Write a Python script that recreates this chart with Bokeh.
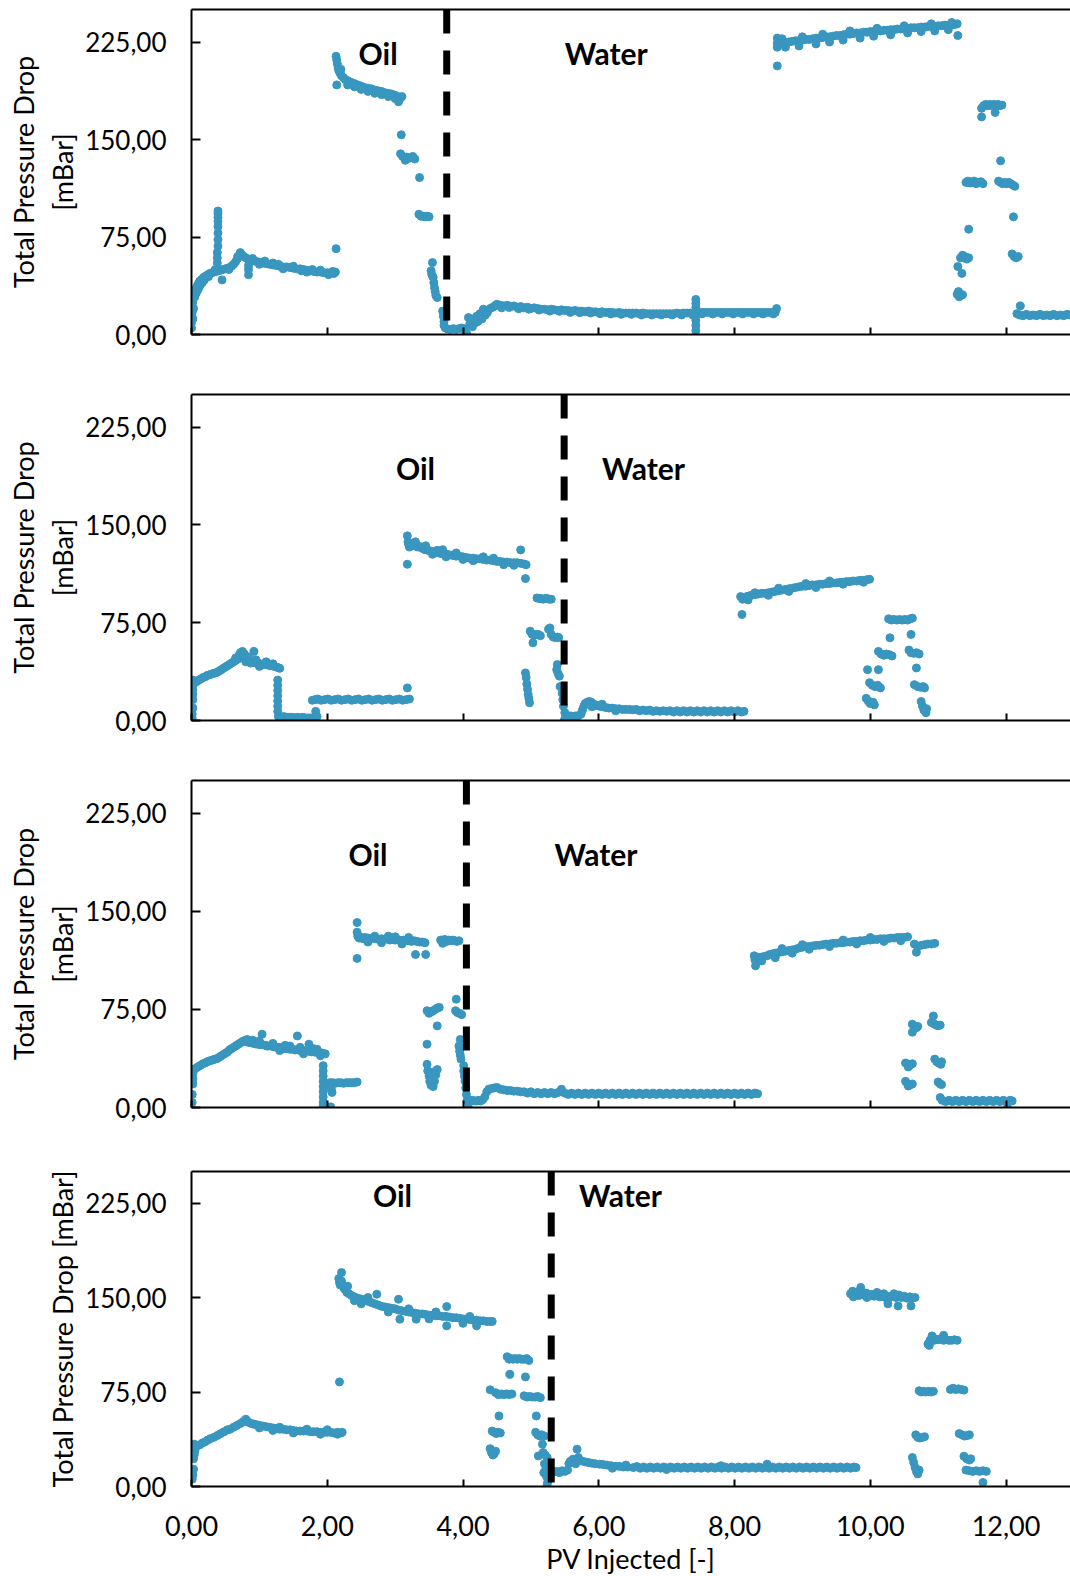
from bokeh.plotting import figure
from bokeh.layouts import column
from bokeh.models import Range1d, Span, Label, LinearAxis, FixedTicker
from bokeh.embed import file_html
from bokeh.resources import INLINE

# ---------------- axis values ----------------
x_ticks = [0, 2, 4, 6, 8, 10, 12]
x_tick_labels = ["0,00", "2,00", "4,00", "6,00", "8,00", "10,00", "12,00"]
y_ticks = [0, 75, 150, 225]
y_tick_labels = ["0,00", "75,00", "150,00", "225,00"]
phase_names = ["Oil", "Water"]
switch_pv = [3.76, 5.49, 4.05, 5.30]   # PV injected at oil -> water switch

# ---------------- panel 1 (PV injected, total pressure drop mBar) ----------------
p1_oil_start = [(0.00,5),(0.00,9),(0.01,13),(0.01,17),(0.01,21),(0.02,25),(0.02,28),(0.03,31),(0.03,20),(0.02,12),(0.00,24),(0.01,30),
    (0.04,32),(0.05,29),(0.06,35),(0.07,32),(0.08,37),(0.09,34),(0.10,39),(0.11,36),(0.12,41),(0.13,38),(0.15,42.5),(0.16,40),(0.18,44),(0.19,42),
    (0.21,45),(0.24,46),(0.27,47),(0.30,47.5),(0.33,48),(0.36,48.5),(0.40,49),(0.43,49.5),(0.46,50),(0.50,50.5),(0.53,51),(0.56,51.5),(0.59,52.5),
    (0.62,54),(0.65,56),(0.68,58.5),(0.71,60.5),(0.74,61.5),(0.77,60),(0.80,59),(0.83,58),(0.86,57.5),(0.89,57),(0.93,56.5),(0.97,56),(1.01,55.5),
    (1.05,55),(1.10,54.5),(1.15,54),(1.20,53.5),(1.25,53),(1.30,52.5),(1.35,52),(1.40,52),(1.45,51.5),(1.50,51),(1.55,50.5),(1.60,50.5),(1.65,50),
    (1.70,49.5),(1.75,49),(1.80,48.5),(1.85,48),(1.90,48),(1.95,47.5),(2.00,47.5),(2.05,47),(2.10,47),(2.12,48),
    (0.25,44.5),(0.35,50),(0.55,50),(0.72,63),(0.68,60),(0.90,58.5),(1.08,56.5),(1.20,55),(1.35,50.5),(1.50,52.5),(1.62,49),(1.70,48),(1.90,49.5),
    (2.02,46),(2.08,48.5),(1.00,54),(1.28,54),(1.78,50),
    (0.38,55),(0.38,59),(0.38,63),(0.39,68),(0.39,73),(0.39,78),(0.39,83),(0.39,87),(0.39,90),(0.39,93),(0.39,95),
    (0.45,42),(0.84,46),(0.84,50),(0.84,53),(2.13,66)]
p1_oil_high = [(2.14,192),(2.13,214),(2.14,211),(2.15,208),(2.16,205),(2.17,203),(2.19,201),(2.21,199),(2.24,197.5),(2.27,196),(2.31,195),
    (2.35,194),(2.40,193),(2.45,192),(2.50,191),(2.55,190),(2.60,189.5),(2.65,189),(2.70,188),(2.75,187.5),(2.80,187),(2.85,186),(2.90,185.5),
    (2.95,185),(3.00,184),(3.04,183),(3.08,182),(3.10,183),(2.30,192),(2.50,188.5),(2.70,185.5),(2.90,183),(3.05,179),(2.20,204),(2.60,187),
    (2.40,190.5),(2.80,184.5),(3.00,181.5)]
p1_oil_steps = [(3.09,153.6),(3.08,139),(3.11,137),(3.14,136),(3.17,136.5),(3.20,135.5),(3.23,136),(3.26,137),(3.29,135),(3.15,134),
    (3.36,120.7),(3.35,92.5),(3.38,91),(3.41,91),(3.44,90.5),(3.47,91),(3.50,90.5),(3.55,55.3),(3.53,49),(3.54,46),(3.56,44),(3.57,40),
    (3.58,36),(3.59,33),(3.60,30),(3.62,28.4),(3.70,18),(3.71,14),(3.72,10),(3.72,7)]
p1_water_low = [(3.74,5),(3.78,4),(3.82,4),(3.86,4.5),(3.90,4),(3.94,4.5),(3.98,5),(4.02,4.5),(4.04,2),(4.06,0),
    (4.08,13),(4.10,8),(4.12,11),(4.14,6),(4.16,12),(4.18,9),(4.20,14),(4.22,10),(4.25,16),(4.28,12),(4.30,19.5),(4.33,15),(4.36,17),(4.40,20),
    (4.44,21),(4.47,22),(4.50,23.3),(4.55,22.5),(4.60,22),(4.65,22.5),(4.70,21.5),(4.75,22),(4.80,21),(4.85,21.5),(4.90,20.5),(4.95,21),(5.00,20),
    (5.05,20.5),(5.10,20),(5.15,19.5),(5.20,19.5),(5.25,19),(5.30,19.5),(5.35,19),(5.40,18.5),(5.45,19),(5.50,18.5),(5.55,18.5),(5.60,18),
    (5.65,18.5),(5.70,18),(5.75,18),(5.80,17.5),(5.85,18),(5.90,17.5),(5.95,17.5),(6.00,17),(6.05,17.5),(6.10,17),(6.15,17),(6.20,17),(6.25,16.5),
    (6.30,17),(6.35,16.5),(6.40,16.5),(6.45,16.5),(6.50,16.5),(6.55,16.5),(6.60,16),(6.65,16.5),(6.70,16),(6.75,16),(6.80,16),(6.85,16),(6.90,16),
    (6.95,16),(7.00,16),(7.05,16),(7.10,16),(7.15,16.5),(7.20,16),(7.25,16.5),(7.30,16.5),(7.35,16.5),(7.40,16.5),(7.45,16.5),(7.50,17),(7.55,17),
    (7.60,17),(7.65,17),(7.70,17),(7.75,17),(7.80,17),(7.85,17),(7.90,17),(7.95,17),(8.00,17),(8.05,17),(8.10,17),(8.15,17),(8.20,17),(8.25,17),
    (8.30,17),(8.35,17),(8.40,17),(8.45,17),(8.50,17),(8.55,17),(8.60,17),(8.62,20),
    (4.57,20.5),(4.68,20.8),(4.82,19.8),(4.97,19.5),(5.12,18.8),(5.28,18),(5.42,17.8),(5.58,17),(5.72,16.8),(5.88,16.5),(6.02,16),(6.18,15.8),
    (6.33,15.5),(6.48,15.5),(6.63,15),(6.78,15),(6.92,15),(7.08,15),(7.22,15),(7.38,15.2),(7.52,15.8),(7.68,15.8),(7.82,15.8),(7.98,15.8),
    (8.12,15.8),(8.28,15.8),(8.42,15.8),(8.57,15.8),
    (7.43,3),(7.43,7),(7.43,11),(7.43,21),(7.43,24),(7.43,27)]
p1_water_high = [(8.63,206.6),(8.63,228),(8.63,224),(8.63,221),(8.66,225),(8.70,224.5),(8.75,225),(8.80,225),(8.85,225.5),(8.90,226),(8.95,226),
    (9.00,226.5),(9.05,227),(9.10,227),(9.15,227.5),(9.20,228),(9.25,228),(9.30,228.5),(9.35,229),(9.40,229),(9.45,229.5),(9.50,230),(9.55,230),
    (9.60,230.5),(9.65,231),(9.70,231),(9.75,231.5),(9.80,232),(9.85,232),(9.90,232.5),(9.95,232.5),(10.00,233),(10.05,233),(10.10,233.5),
    (10.15,233.5),(10.20,234),(10.25,234),(10.30,234.5),(10.35,234.5),(10.40,235),(10.45,235),(10.50,235.5),(10.55,235.5),(10.60,236),(10.65,236),
    (10.70,236),(10.75,236.5),(10.80,236.5),(10.85,237),(10.90,237),(10.95,237),(11.00,237.5),(11.05,237.5),(11.10,238),(11.15,238),(11.20,238),
    (11.25,238.5),(11.28,239),
    (8.75,221),(8.95,222),(9.20,223.5),(9.40,225),(9.60,226.5),(9.85,228),(10.05,229.5),(10.30,230.5),(10.55,232),(10.75,233),(10.95,233.5),
    (11.15,234.5),(11.29,230),(8.70,227.5),(9.00,229),(9.30,231),(9.70,233.5),(10.10,235.5),(10.50,237.5),(10.90,239),(11.20,240)]
p1_water_steps = [(11.28,31),(11.30,33),(11.31,29),(11.33,31),(11.36,30.5),(11.29,52.3),(11.35,47),(11.33,59),(11.36,61),(11.39,60),(11.42,58),
    (11.45,59),(11.45,81),(11.41,117),(11.44,118),(11.47,116.5),(11.50,117),(11.53,118),(11.56,116),(11.60,117),(11.63,117.5),(11.66,116),
    (11.64,167.4),(11.64,174),(11.67,176),(11.70,177),(11.73,176),(11.76,177),(11.79,176),(11.82,177),(11.85,176),(11.88,177),(11.91,176),
    (11.94,176.5),(11.84,170.8),(11.92,133.6),(11.89,118),(11.92,117),(11.95,116),(11.98,117),(12.01,116),(12.04,117),(12.07,116),(12.10,115),
    (12.13,114),(12.11,90.5),(12.09,62),(12.12,60),(12.15,59),(12.18,60),(12.21,22),
    (12.16,16),(12.20,15),(12.25,14.5),(12.30,15.5),(12.35,14.5),(12.40,15),(12.45,14.5),(12.50,15.5),(12.55,14.5),(12.60,15),(12.65,14.5),
    (12.70,15.5),(12.75,14.5),(12.80,15),(12.85,14.5),(12.90,15.5),(12.94,15)]

# ---------------- panel 2 ----------------
p2_oil_start = [(0.01,1.8),(0.02,9.5),(0.01,5),(0.02,16),(0.02,20),(0.02,24),(0.02,28),(0.02,31),
    (0.05,29),(0.08,30),(0.11,31),(0.14,32),(0.17,33),(0.20,33.5),(0.23,34.5),(0.26,35),(0.29,35.5),(0.32,36),(0.35,36.5),(0.38,37),(0.41,38),
    (0.44,39),(0.47,40),(0.50,41),(0.53,42),(0.56,43),(0.59,44),(0.62,45),(0.65,46),(0.68,47),(0.71,48),(0.74,49),(0.77,48),(0.80,47),(0.83,46),
    (0.86,45),(0.89,45),(0.92,44.5),(0.95,44),(0.98,44),(1.01,43.5),(1.04,43),(1.07,43),(1.10,43),(1.13,42.5),(1.16,42),(1.19,42),(1.22,41.5),
    (1.25,41),(1.28,40.5),(1.30,40),
    (0.70,50),(0.72,52),(0.75,53),(0.78,51),(0.92,53),(0.87,44),(0.80,45),(1.00,41.5),(1.10,45),(1.20,43.5),(0.95,46.5),(0.65,48),(0.84,48.5),
    (1.27,31),(1.27,27),(1.27,23),(1.27,19),(1.27,15),(1.27,11),(1.27,7),
    (1.28,3),(1.32,2.5),(1.36,3),(1.40,2.5),(1.44,2.5),(1.48,2.5),(1.52,2),(1.56,2.5),(1.60,2),(1.64,2.5),(1.68,2),(1.72,2),(1.76,2),(1.80,2),
    (1.83,7),(1.85,3),
    (1.78,15.5),(1.82,16),(1.86,16.5),(1.91,15.5),(1.96,16),(2.01,16.5),(2.06,15.5),(2.11,16),(2.16,16.5),(2.21,15.5),(2.26,16),(2.31,16.5),
    (2.36,15.5),(2.41,16),(2.46,16.5),(2.51,15.5),(2.56,16),(2.61,16.5),(2.66,15.5),(2.71,16),(2.76,16.5),(2.81,15.5),(2.86,16),(2.91,16.5),
    (2.96,15.5),(3.01,16),(3.06,16.5),(3.11,15.5),(3.16,16),(3.21,16.5),(3.18,25)]
p2_oil_high = [(3.18,141.6),(3.18,119.8),(3.19,137),(3.20,135),(3.21,133),(3.23,136),(3.25,134),(3.27,135),(3.30,134),(3.33,133),(3.36,133.5),
    (3.40,132),(3.44,131),(3.48,130.5),(3.52,130),(3.56,129.5),(3.60,129),(3.64,128.5),(3.68,128),(3.72,128),(3.76,127.5),(3.80,127),(3.85,126.5),
    (3.90,126),(3.95,126),(4.00,125.5),(4.05,125),(4.10,124.5),(4.15,124.5),(4.20,124),(4.25,124),(4.30,123.5),(4.35,123),(4.40,123),(4.45,122.5),
    (4.50,122),(4.55,122),(4.60,121.5),(4.65,121.5),(4.70,121),(4.75,121),(4.80,121),(4.85,120.5),(4.90,120),(4.93,119.5),
    (3.30,137),(3.45,134),(3.62,130.5),(3.75,125.5),(4.00,123.5),(4.30,125.5),(4.60,119.5),(3.55,127.5),(3.70,131),(3.90,128.5),(4.15,122.5),
    (4.45,124.5),(4.75,119),(4.85,130.8),(4.92,108.8)]
p2_oil_steps = [(4.92,36.5),(4.93,33),(4.94,28),(4.95,24),(4.96,20),(4.97,17),(4.98,13.6),
    (4.99,68.5),(5.02,66),(5.05,65.5),(5.08,66),(5.11,66),(5.14,65),(5.03,59.6),
    (5.09,94),(5.12,93.5),(5.15,93.5),(5.18,93),(5.21,93.5),(5.24,93.5),(5.27,93),(5.30,93),
    (5.26,70),(5.28,71),(5.30,66),(5.33,64),(5.36,63.6),(5.39,64),(5.41,63.6),
    (5.39,42.9),(5.38,39),(5.40,36),(5.42,34),
    (5.43,26),(5.46,21),(5.47,16),(5.48,11),(5.50,6),(5.49,0),(5.51,3)]
p2_water_low = [(5.53,4),(5.56,3),(5.59,3.5),(5.62,3),(5.65,3.5),(5.68,3),(5.71,4),(5.74,5),(5.76,8),(5.78,11),(5.80,13),(5.83,14),(5.86,14.6),
    (5.89,14),(5.92,12.5),(5.95,12),(5.98,11.5),(6.01,11),(6.05,10.5),(6.10,10),(6.15,9.5),(6.20,9.5),(6.25,9),(6.30,9),(6.35,8.5),(6.40,8.5),
    (6.45,8.5),(6.50,8.2),(6.55,8.5),(6.60,7.5),(6.65,8),(6.70,7.5),(6.75,8),(6.80,7),(6.85,7.5),(6.90,7),(6.95,7.5),(7.00,7),(7.05,7.5),(7.10,6.5),
    (7.15,7.5),(7.20,6.5),(7.25,7.5),(7.30,6.5),(7.35,7.5),(7.40,6.5),(7.45,7.5),(7.50,6.5),(7.55,7.5),(7.60,6.5),(7.65,7.5),(7.70,6.5),(7.75,7.5),
    (7.80,6.5),(7.85,7.5),(7.90,6.5),(7.95,7.5),(8.00,6.5),(8.05,7.5),(8.10,6.5),(8.14,7),(5.90,10.5),(6.05,12.5),(6.25,7.5)]
p2_water_high = [(8.11,81.3),(8.09,95),(8.12,93),(8.15,94),(8.18,95),(8.21,95.5),(8.25,96),(8.30,96.5),(8.35,97),(8.40,97.5),(8.45,97.5),
    (8.50,98),(8.55,98.5),(8.60,99),(8.65,99.5),(8.70,100),(8.75,100.5),(8.80,101),(8.85,101.5),(8.90,102),(8.95,102.5),(9.00,103),(9.05,103),
    (9.10,103.5),(9.15,104),(9.20,104),(9.25,104.5),(9.30,104.5),(9.35,105),(9.40,105),(9.45,105.5),(9.50,105.5),(9.55,106),(9.60,106),
    (9.65,106.5),(9.70,106.5),(9.75,107),(9.80,107),(9.85,107.5),(9.90,107.5),(9.95,108),(9.99,108.3),
    (8.20,92.5),(8.50,96),(8.80,99),(9.20,102),(9.60,104.5),(9.90,106),(8.30,98),(9.40,107),(8.65,101.5),(9.05,105)]
p2_water_steps = [(9.96,39),(10.12,39),(9.99,29),(10.03,27),(10.07,26),(10.11,27),(10.15,25),(9.94,17),(9.97,15),(10.00,13),(10.04,14),
    (10.06,12),(10.12,53),(10.16,51),(10.20,50),(10.24,51),(10.28,50.5),(10.32,49.5),(10.29,63.4),
    (10.27,78),(10.31,77),(10.35,77.5),(10.39,77),(10.43,77.5),(10.47,77),(10.51,77.5),(10.55,77),(10.59,78),(10.62,78.5),(10.60,66),
    (10.57,54),(10.60,52),(10.64,51.5),(10.68,52),(10.72,51),(10.68,40.3),(10.65,27.5),(10.70,26),(10.74,25.5),(10.78,26),(10.80,25),
    (10.75,14.6),(10.77,11),(10.79,8),(10.82,6),(10.83,9)]

# ---------------- panel 3 ----------------
p3_oil_start = [(0.01,3.8),(0.01,10),(0.02,18),(0.02,22),(0.02,26),(0.02,29),
    (0.05,29.5),(0.08,30.6),(0.11,31.5),(0.14,32.5),(0.17,33.5),(0.20,34),(0.23,35),(0.26,35.5),(0.29,36),(0.32,36.5),(0.35,37),(0.38,37.5),
    (0.41,38.5),(0.44,39.5),(0.47,40.5),(0.50,41.5),(0.53,42.5),(0.56,44),(0.59,45),(0.62,46),(0.65,47),(0.68,48),(0.71,49),(0.74,50),(0.77,51),
    (0.80,50.5),(0.83,50),(0.86,49.5),(0.89,49.5),(0.92,49),(0.95,48.5),(0.98,48.5),(1.01,48),(1.05,48),(1.09,47.5),(1.13,47),(1.17,47),
    (1.21,46.5),(1.25,46),(1.29,46),(1.33,45.5),(1.37,45),(1.41,45),(1.45,44.5),(1.49,44.5),(1.53,44),(1.57,44),(1.61,43.5),(1.65,43.5),
    (1.69,43),(1.73,43),(1.77,42.5),(1.81,42.5),(1.85,42),(1.89,42),(1.93,41.5),(1.97,41),
    (1.04,56),(1.56,54.7),(1.73,48.4),(1.11,47),(0.90,51.5),(1.20,49),(1.30,43.5),(1.45,47),(1.65,41),(1.80,45),(1.90,39.5),(1.00,51),
    (0.82,52),(1.38,47.5),(1.60,46),(1.85,44.5),
    (1.94,32),(1.94,28),(1.94,24),(1.94,20),(1.94,16),(1.94,12),(1.94,8),(1.94,4),(1.94,1.2),
    (1.96,0),(1.99,0.5),(2.02,0),(2.05,0.5),
    (1.96,19),(2.00,18.5),(2.04,19),(2.08,19),(2.12,18.5),(2.16,19),(2.20,19),(2.24,18.5),(2.28,19),(2.32,19),(2.36,19),(2.40,19),(2.44,19.5),
    (2.07,11.5),(2.06,14)]
p3_oil_high = [(2.44,141.4),(2.44,114),(2.44,134),(2.45,131),(2.47,129.5),(2.50,130),(2.53,129),(2.56,130),(2.60,129.5),(2.64,129),(2.68,129.5),
    (2.72,129),(2.76,128.5),(2.80,129),(2.84,128.5),(2.88,129),(2.92,128),(2.96,128.5),(3.00,128),(3.04,128.5),(3.08,127.5),(3.12,128),
    (3.16,127.5),(3.20,127.5),(3.24,127),(3.28,127.5),(3.32,127),(3.36,126.5),(3.40,126.5),(3.44,126),
    (2.60,126.5),(2.80,126),(3.00,130.5),(3.10,125),(3.30,117),(3.45,117),(2.90,131),(2.70,131),(3.20,130),
    (3.67,128),(3.70,127.5),(3.73,128.5),(3.76,127),(3.79,128),(3.82,127.5),(3.85,128),(3.88,127.5),(3.91,127),(3.94,127.5),(3.70,125.5)]
p3_oil_steps = [(3.47,74),(3.50,72),(3.53,73),(3.56,74),(3.59,75),(3.62,76),(3.65,76.5),(3.62,62.4),(3.47,48.4),
    (3.47,33),(3.48,28),(3.50,24),(3.51,20),(3.53,17),(3.56,16),(3.58,20),(3.60,25),(3.62,29),(3.55,27),
    (3.90,82.8),(3.89,74),(3.92,72.5),(3.95,72),(3.98,71),
    (3.96,52),(3.94,47),(3.95,43),(3.96,40),(3.97,37),
    (4.01,32),(4.01,28),(4.02,24),(4.03,20),(4.04,15),(4.05,10),(4.06,5),(4.08,0)]
p3_water_low = [(4.08,6),(4.11,5),(4.14,5.5),(4.17,5),(4.20,5),(4.23,5.5),(4.26,5),(4.29,6),(4.32,8),(4.35,12),(4.38,14),(4.42,14.5),
    (4.46,15),(4.50,15.3),(4.55,14),(4.60,13.5),(4.65,13),(4.70,13),(4.75,12.5),(4.80,12.5),(4.85,12),(4.90,12),(4.95,11),(5.00,12),(5.05,10.5),
    (5.10,11.5),(5.15,10.5),(5.20,11.5),(5.25,10.5),(5.30,11.5),(5.35,10.5),(5.40,11.5),(5.45,14),(5.50,11),(5.55,10),(5.60,11),(5.65,10),
    (5.70,11),(5.75,10),(5.80,11),(5.85,10),(5.90,11),(5.95,10),(6.00,11),(6.05,10),(6.10,11),(6.15,10),(6.20,11),(6.25,10),(6.30,11),(6.35,10),
    (6.40,11),(6.45,10),(6.50,11),(6.55,10),(6.60,11),(6.65,10),(6.70,11),(6.75,10),(6.80,11),(6.85,10),(6.90,11),(6.95,10),(7.00,11),(7.05,10),
    (7.10,11),(7.15,10),(7.20,11),(7.25,10),(7.30,11),(7.35,10),(7.40,11),(7.45,10),(7.50,11),(7.55,10),(7.60,11),(7.65,10),(7.70,11),(7.75,10),
    (7.80,11),(7.85,10),(7.90,11),(7.95,10),(8.00,11),(8.05,10),(8.10,11),(8.15,10),(8.20,11),(8.25,10),(8.30,11),(8.34,10.5)]
p3_water_high = [(8.31,108.3),(8.29,116),(8.30,113),(8.33,115),(8.36,114.5),(8.40,115),(8.44,115.5),(8.48,116),(8.52,117),(8.56,117.5),
    (8.60,118),(8.65,118.5),(8.70,119),(8.75,119.5),(8.80,120),(8.85,120.5),(8.90,121),(8.95,122),(9.00,122.5),(9.05,123),(9.10,123),
    (9.15,123.5),(9.20,124),(9.25,124),(9.30,124.5),(9.35,125),(9.40,125),(9.45,125.5),(9.50,125.5),(9.55,126),(9.60,126),(9.65,126.5),
    (9.70,126.5),(9.75,127),(9.80,127),(9.85,127.5),(9.90,127.5),(9.95,128),(10.00,128),(10.05,128.5),(10.10,128.5),(10.15,129),(10.20,129),
    (10.25,129),(10.30,129.5),(10.35,129.5),(10.40,130),(10.45,130),(10.50,130),(10.55,130.5),
    (8.40,112),(8.60,114.5),(8.85,118),(9.10,121),(9.40,123),(9.80,125),(10.20,127),(10.45,127.5),(8.70,121.5),(9.60,128),(9.00,124.5),(10.00,130),
    (10.65,125),(10.68,118.7),(10.70,123),(10.75,124),(10.80,124.5),(10.85,125),(10.90,125),(10.95,125.5)]
p3_water_steps = [(10.62,63.7),(10.65,62),(10.68,61),(10.70,62),(10.62,57.6),
    (10.93,70),(10.90,65),(10.94,64),(10.97,63),(11.00,62.5),(11.03,63),
    (10.52,34),(10.55,33),(10.58,32),(10.62,33.5),(10.56,31),
    (10.95,37),(10.98,35),(11.01,34),(11.04,33),(11.05,35),
    (10.52,20),(10.55,18),(10.58,17),(10.62,18),(10.56,16.5),
    (11.00,19.5),(11.03,18),(11.05,17.5),(11.03,7.6),
    (11.06,5.5),(11.11,4.5),(11.16,5.5),(11.21,4.5),(11.26,5.5),(11.31,4.5),(11.36,5.5),(11.41,4.5),(11.46,5.5),(11.51,4.5),(11.56,5.5),
    (11.61,4.5),(11.66,5.5),(11.71,4.5),(11.76,5.5),(11.81,4.5),(11.86,5.5),(11.91,4.5),(11.96,5.5),(12.01,4.5),(12.06,5.5),(12.09,5),(12.02,0)]

# ---------------- panel 4 ----------------
p4_oil_start = [(0.01,5.8),(0.02,9),(0.03,13.7),(0.03,22),(0.04,25),(0.05,28),(0.06,31),(0.04,33.6),
    (0.08,32.2),(0.12,33),(0.16,34.5),(0.20,35.5),(0.24,37),(0.28,38),(0.33,39),(0.38,40.5),(0.43,42),(0.48,43.5),(0.53,45),(0.57,45.5),
    (0.62,47),(0.67,48.5),(0.72,50),(0.76,51.5),(0.80,53.4),(0.84,51),(0.88,50),(0.92,49.5),(0.96,49),(1.00,48.5),(1.05,48),(1.10,47.5),
    (1.15,47),(1.20,46.5),(1.25,46),(1.30,45.5),(1.35,45.5),(1.40,45),(1.45,45),(1.50,44.5),(1.55,44),(1.60,44),(1.65,44),(1.70,44),(1.75,43.5),
    (1.80,43.5),(1.85,43.5),(1.90,43),(1.95,43),(2.00,43),(2.05,43),(2.10,42.5),(2.15,43),(2.20,42.5),(2.22,43),
    (0.82,51.5),(1.00,46.5),(1.30,47),(1.50,42.5),(1.70,45.5),(1.90,41.5),(2.00,45),(2.15,41.5),(1.20,44.5),(2.18,83)]
p4_oil_high = [(2.21,169.8),(2.17,165),(2.18,162),(2.19,160),(2.21,163),(2.23,159),(2.25,157),(2.27,156),(2.29,154),(2.32,153),(2.36,151.5),
    (2.40,150.5),(2.44,149.5),(2.48,149),(2.52,148.5),(2.56,147.5),(2.60,147),(2.65,146),(2.70,145),(2.75,144),(2.80,143),(2.85,142.5),(2.90,142),
    (2.95,141.5),(3.00,141),(3.05,140),(3.10,139.5),(3.15,139),(3.20,138.5),(3.25,138),(3.30,137.5),(3.35,137),(3.40,137),(3.45,136.5),(3.50,136),
    (3.55,136),(3.60,135.5),(3.65,135.5),(3.70,135),(3.75,135),(3.80,134.5),(3.85,134),(3.90,134),(3.95,133.5),(4.00,133),(4.05,133),(4.10,132.5),
    (4.15,132),(4.20,132),(4.25,131.5),(4.30,131.5),(4.35,131),(4.40,131),(4.43,131),
    (2.73,152.6),(3.05,148.6),(3.76,142.8),(2.30,159),(2.60,150),(3.07,132.8),(3.76,127.5),(4.20,127.5),(3.31,132.8),(2.50,145),(2.90,138.5),
    (3.50,133),(4.00,129.5),(2.40,147.5),(3.20,141),(3.60,138.5),(4.10,135)]
p4_oil_steps = [(4.40,76.7),(4.40,30),(4.42,27),(4.44,25),(4.46,26),(4.48,28),
    (4.43,44),(4.46,43),(4.49,42),(4.52,43),(4.55,42.5),(4.53,56),
    (4.48,74.5),(4.52,73),(4.56,73.5),(4.60,73),(4.64,73.5),(4.68,73),(4.72,73.5),
    (4.69,89),(4.65,103),(4.68,101),(4.71,101.5),(4.74,101),(4.77,101.5),(4.80,101),(4.83,101.5),(4.86,101),(4.90,101),(4.94,101.5),(4.97,100),
    (4.92,87),(4.90,72),(4.94,71),(4.98,71.5),(5.02,71),(5.06,71),(5.10,71.5),(5.14,70.5),
    (5.08,56),(5.07,43),(5.10,41),(5.13,40),(5.16,41),(5.20,40),(5.17,33.6),(5.11,24.3),(5.18,27),(5.21,25),(5.24,23),(5.19,11),(5.20,18),
    (5.22,14),(5.23,8),(5.25,4),(5.24,1.8)]
p4_water_low = [(5.30,12),(5.34,11.5),(5.38,12),(5.42,11),(5.46,12.5),(5.50,12),(5.54,13),(5.56,18),(5.58,20),(5.62,21.7),(5.66,18),
    (5.68,29.6),(5.70,23),(5.72,20.5),(5.75,20.3),(5.80,19.5),(5.85,19),(5.90,18.5),(5.95,18),(6.01,17.7),(6.06,17.5),(6.12,17),(6.18,16.5),
    (6.24,16),(6.30,16),(6.36,15.5),(6.42,15.5),(6.51,15),(6.56,15.8),(6.61,14.5),(6.66,15.5),(6.71,14.5),(6.76,15.5),(6.81,14.5),(6.86,15.5),
    (6.91,14.5),(6.96,15.5),(7.01,14.5),(7.06,15.5),(7.11,14.5),(7.16,15.5),(7.21,14.5),(7.26,15.5),(7.31,14.5),(7.36,15.5),(7.41,14.5),
    (7.46,15.5),(7.51,14.5),(7.56,15.5),(7.61,14.5),(7.66,15.5),(7.71,14.5),(7.76,15.5),(7.81,14.5),(7.86,15.5),(7.91,14.5),(7.96,15.5),
    (8.01,14.5),(8.06,15.5),(8.11,14.5),(8.16,15.5),(8.21,14.5),(8.26,15.5),(8.31,14.5),(8.36,15.5),(8.41,14.5),(8.46,15.5),(8.48,17.7),
    (8.51,14.5),(8.56,15.5),(8.61,14.5),(8.66,15.5),(8.71,14.5),(8.76,15.5),(8.81,14.5),(8.86,15.5),(8.91,14.5),(8.96,15.5),(9.01,14.5),
    (9.06,15.5),(9.11,14.5),(9.16,15.5),(9.21,14.5),(9.26,15.5),(9.31,14.5),(9.36,15.5),(9.41,14.5),(9.46,15.5),(9.51,14.5),(9.56,15.5),
    (9.61,14.5),(9.66,15.5),(9.71,14.5),(9.76,15.5),(9.79,15),(6.20,14.5),(6.40,17),(7.00,13.5),(7.80,16.5)]
p4_water_high = [(9.71,153),(9.74,155),(9.77,152),(9.80,154),(9.83,151.5),(9.86,158),(9.86,153),(9.90,152),(9.94,153.5),(9.98,151),(10.02,152.5),
    (10.06,151),(10.10,152),(10.14,150.5),(10.18,151.5),(10.22,150),(10.26,145),(10.26,151),(10.30,150.5),(10.34,151.5),(10.38,150),(10.41,143.3),
    (10.42,152),(10.46,150),(10.50,151),(10.54,149.5),(10.58,150.5),(10.60,143.3),(10.62,149.5),(10.66,150),(9.95,150),(10.10,154),(10.35,153),
    (9.75,150.5),(10.20,153)]
p4_water_steps = [(10.85,113),(10.88,116),(10.91,119.5),(10.94,116),(10.97,117),(11.00,116.5),(11.04,117),(11.08,120),(11.08,116),(11.12,116.5),
    (11.16,116),(11.20,116),(11.24,116.5),(11.28,116),(10.87,112),
    (10.72,76),(10.75,75),(10.78,75.5),(10.82,75),(10.86,75.5),(10.90,75),(10.93,75.5),
    (11.18,77),(11.22,78),(11.26,77),(11.30,77.5),(11.34,77),(11.38,76.5),
    (10.67,41),(10.70,39),(10.73,38.5),(10.77,39),(10.80,39.5),
    (11.31,42),(11.35,41),(11.39,40),(11.43,40.5),(11.46,41),
    (10.62,23),(10.64,19),(10.66,15),(10.68,12),(10.70,10),(10.72,13),
    (11.38,24),(11.42,22),(11.46,21),(11.48,22),
    (11.41,13),(11.46,12.5),(11.51,12),(11.56,12.5),(11.61,12),(11.66,12.5),(11.71,12),(11.66,3.2)]

panels = [
    p1_oil_start + p1_oil_high + p1_oil_steps + p1_water_low + p1_water_high + p1_water_steps,
    p2_oil_start + p2_oil_high + p2_oil_steps + p2_water_low + p2_water_high + p2_water_steps,
    p3_oil_start + p3_oil_high + p3_oil_steps + p3_water_low + p3_water_high + p3_water_steps,
    p4_oil_start + p4_oil_high + p4_oil_steps + p4_water_low + p4_water_high + p4_water_steps,
]

# ---------------- styling / layout ----------------
FONT = "Lato"
DOT = "#3896BF"
frame_heights = [325, 326, 327, 315]
top_borders = [9, 30, 30, 32]
bottom_borders = [30, 30, 32, 90]
y_titles = ["Total Pressure Drop\n[mBar]"] * 3 + ["Total Pressure Drop [mBar]"]
oil_label_pos = [(2.75, 216.5), (3.30, 193.4), (2.60, 193.5), (2.96, 231.3)]
water_label_pos = [(6.11, 216.5), (6.66, 193.4), (5.96, 193.5), (6.32, 231.3)]

figs = []
for i in range(4):
    last = (i == 3)
    p = figure(width=1070, frame_width=879, frame_height=frame_heights[i],
               x_range=Range1d(0, 12.95), y_range=Range1d(0, 250),
               output_backend="svg", toolbar_location=None,
               min_border_left=191, min_border_right=0,
               min_border_top=top_borders[i], min_border_bottom=bottom_borders[i])
    p.outline_line_color = None
    p.grid.visible = False
    p.background_fill_color = "white"
    p.border_fill_color = "white"

    xs = [pt[0] for pt in panels[i]]
    ys = [pt[1] for pt in panels[i]]
    p.scatter(xs, ys, size=8, fill_color=DOT, line_color=DOT)

    p.add_layout(Span(location=switch_pv[i], dimension="height", line_color="black",
                      line_width=7, line_dash="24 17"))

    ox, oy = oil_label_pos[i]
    wx, wy = water_label_pos[i]
    for (lx, ly, txt) in [(ox, oy, phase_names[0]), (wx, wy, phase_names[1])]:
        p.add_layout(Label(x=lx, y=ly, text=txt, text_font=FONT, text_font_style="bold",
                           text_font_size="30px", text_align="center", text_baseline="middle",
                           text_color="black"))

    # y axis
    ya = p.yaxis[0]
    ya.ticker = FixedTicker(ticks=y_ticks)
    ya.major_label_overrides = {t: l for t, l in zip(y_ticks, y_tick_labels)}
    ya.minor_tick_line_color = None
    ya.major_tick_in = 9
    ya.major_tick_out = 0
    ya.major_tick_line_width = 2
    ya.axis_line_width = 2
    ya.axis_line_color = "black"
    ya.major_tick_line_color = "black"
    ya.major_label_text_font = FONT
    ya.major_label_text_font_size = "26px"
    ya.major_label_text_color = "black"
    ya.major_label_standoff = 25
    ya.axis_label = y_titles[i]
    ya.axis_label_text_font = FONT
    ya.axis_label_text_font_size = "27px"
    ya.axis_label_text_font_style = "normal"
    ya.axis_label_text_color = "black"
    ya.axis_label_standoff = 3

    # x axis
    xa = p.xaxis[0]
    xa.ticker = FixedTicker(ticks=x_ticks)
    if last:
        xa.major_label_overrides = {t: l for t, l in zip(x_ticks, x_tick_labels)}
        xa.axis_label = "PV Injected [-]"
        xa.axis_label_text_font = FONT
        xa.axis_label_text_font_size = "27px"
        xa.axis_label_text_font_style = "normal"
        xa.axis_label_text_color = "black"
        xa.axis_label_standoff = 3
    else:
        xa.major_label_overrides = {t: "" for t in x_ticks}
    xa.minor_tick_line_color = None
    xa.major_tick_in = 7
    xa.major_tick_out = 0
    xa.major_tick_line_width = 2
    xa.axis_line_width = 2
    xa.axis_line_color = "black"
    xa.major_tick_line_color = "black"
    xa.major_label_text_font = FONT
    xa.major_label_text_font_size = "27px"
    xa.major_label_text_color = "black"
    xa.major_label_standoff = 29

    # top border line
    top = LinearAxis(ticker=FixedTicker(ticks=[]), axis_line_width=2, axis_line_color="black",
                     major_tick_line_color=None, minor_tick_line_color=None)
    p.add_layout(top, "above")
    figs.append(p)

layout = column(*figs, spacing=0)
open("out.html", "w").write(file_html(layout, INLINE))
